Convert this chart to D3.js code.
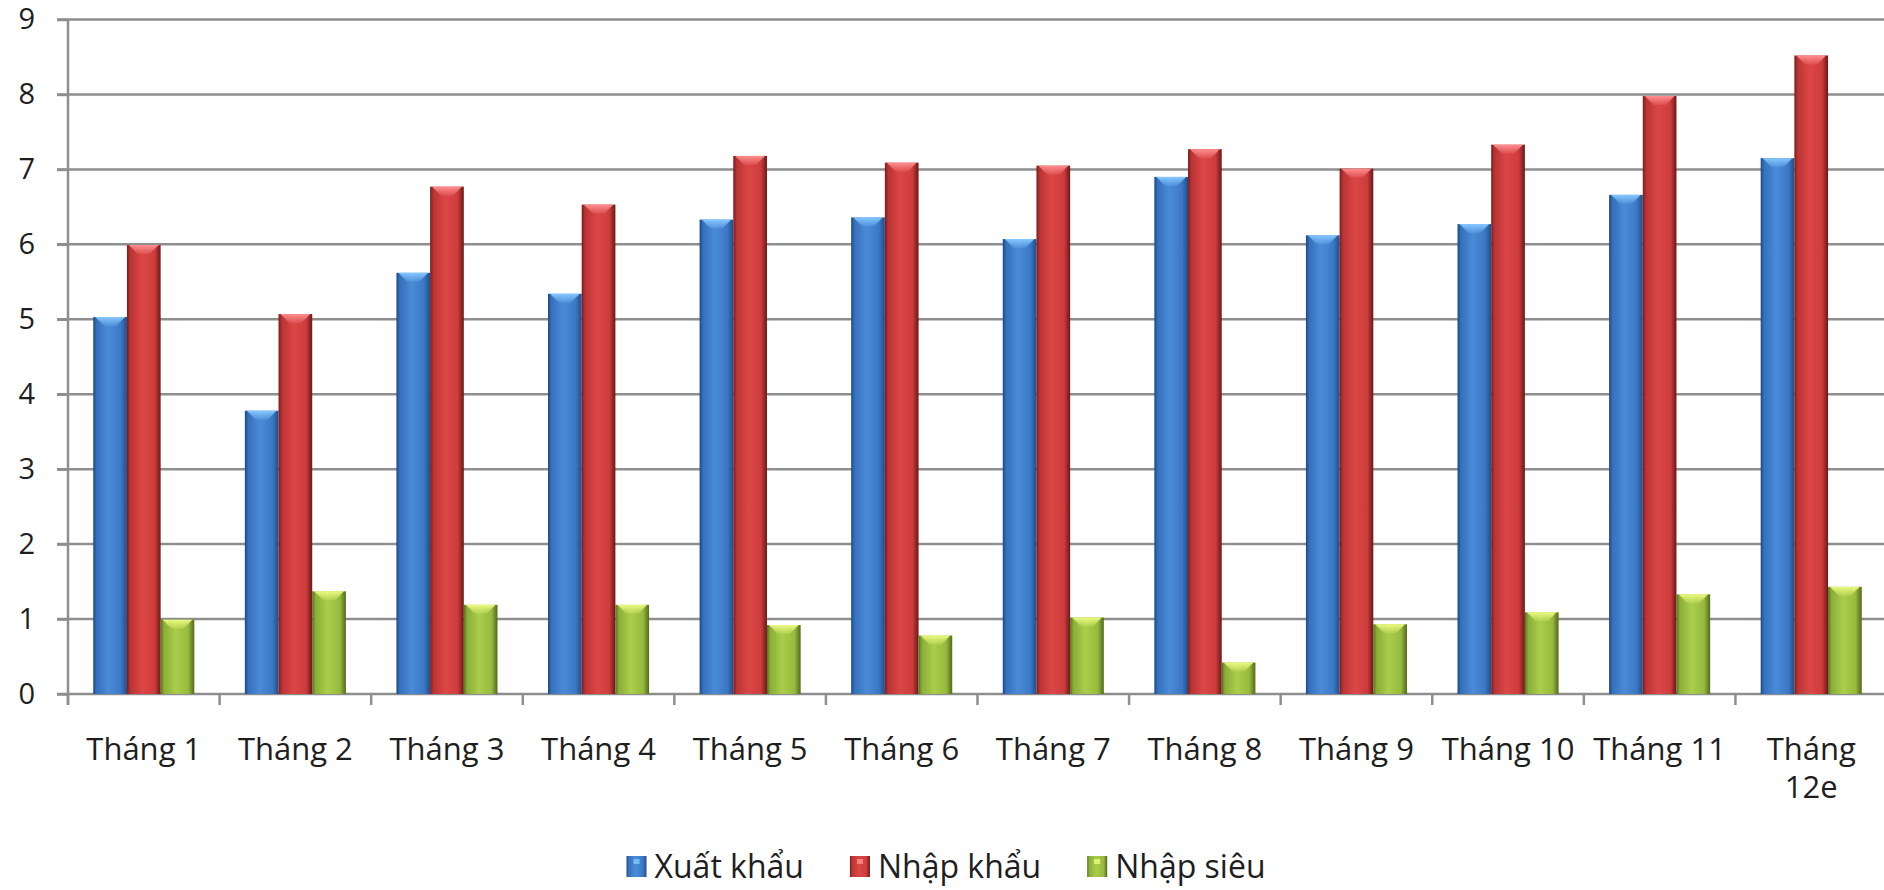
<!DOCTYPE html>
<html>
<head>
<meta charset="utf-8">
<script src="https://cdn.jsdelivr.net/npm/d3@7"></script>
<style>
  html, body { margin: 0; padding: 0; background: #ffffff; }
  svg { display: block; }
  text { font-family: "Open Sans", "Noto Sans", sans-serif; fill: #1e1e1e; }
</style>
</head>
<body>
<svg id="chart" width="1884" height="890"></svg>
<script>
// Monthly trade figures
const categories = ["Tháng 1", "Tháng 2", "Tháng 3", "Tháng 4", "Tháng 5", "Tháng 6",
                    "Tháng 7", "Tháng 8", "Tháng 9", "Tháng 10", "Tháng 11", "Tháng 12e"];
const xuatKhau = [5.03, 3.78, 5.62, 5.34, 6.33, 6.36, 6.07, 6.90, 6.12, 6.27, 6.66, 7.15];
const nhapKhau = [5.99, 5.07, 6.77, 6.53, 7.18, 7.09, 7.05, 7.27, 7.01, 7.33, 7.98, 8.52];
const nhapSieu = [0.99, 1.37, 1.19, 1.19, 0.92, 0.78, 1.02, 0.42, 0.93, 1.09, 1.33, 1.43];
const seriesNames = ["Xuất khẩu", "Nhập khẩu", "Nhập siêu"];
const yTicks = [0, 1, 2, 3, 4, 5, 6, 7, 8, 9];

const seriesValues = [xuatKhau, nhapKhau, nhapSieu];

// Cylinder-like shading per series: edge, body, highlight, cap
const palette = [
  { id: "blue",  stops: ["#1c4884", "#3570bb", "#4a8bd8", "#3a78c5", "#214d88"], cap: "#86c8ff" },
  { id: "red",   stops: ["#7a1b1b", "#b93434", "#dc4646", "#cd3c3c", "#6c1717"], cap: "#ff8f8f" },
  { id: "green", stops: ["#55701d", "#8aae38", "#aacd4b", "#97ba3e", "#526a1b"], cap: "#ecfa80" }
];

const svg = d3.select("#chart");
const W = 1884;

const plot = { left: 68, right: 1887, top: 19.5, bottom: 694 };

const x = d3.scaleBand().domain(categories).range([plot.left, plot.right]).padding(0);
const step = x.step();
// three bars plus a 150% gap per category
const barW = step / 4.5;
const groupOffset = barW * 0.75;
const sub = d3.scaleBand().domain(d3.range(3)).range([groupOffset, groupOffset + 3 * barW]).padding(0);

const y = d3.scaleLinear().domain([0, 9]).range([plot.bottom, plot.top]);

// gradients
const defs = svg.append("defs");
palette.forEach(p => {
  const g = defs.append("linearGradient").attr("id", "grad-" + p.id)
    .attr("x1", "0%").attr("x2", "100%").attr("y1", "0%").attr("y2", "0%");
  [0, 0.1, 0.45, 0.82, 1].forEach((o, i) => g.append("stop").attr("offset", o).attr("stop-color", p.stops[i]));
  const c = defs.append("linearGradient").attr("id", "cap-" + p.id)
    .attr("x1", "0%").attr("x2", "0%").attr("y1", "0%").attr("y2", "100%");
  c.append("stop").attr("offset", 0).attr("stop-color", p.cap).attr("stop-opacity", 1);
  c.append("stop").attr("offset", 1).attr("stop-color", p.cap).attr("stop-opacity", 0.15);
});

// gridlines
svg.append("g").selectAll("line").data(yTicks).join("line")
  .attr("x1", plot.left - 11).attr("x2", W)
  .attr("y1", d => y(d)).attr("y2", d => y(d))
  .attr("stroke", "#8e8e8e").attr("stroke-width", 2.5);

// y axis with labels
const yAxis = svg.append("g").attr("transform", `translate(${plot.left},0)`)
  .call(d3.axisLeft(y).tickValues(yTicks).tickSize(11).tickPadding(22).tickFormat(d3.format("d")));
yAxis.select(".domain").remove();
yAxis.selectAll(".tick line").attr("stroke", "#8e8e8e").attr("stroke-width", 2.5);
yAxis.selectAll(".tick text").style("font-size", "29px").attr("fill", "#1e1e1e")
  .style("font-family", "'Open Sans', sans-serif");
svg.append("line").attr("x1", plot.left).attr("x2", plot.left)
  .attr("y1", plot.top).attr("y2", plot.bottom + 11)
  .attr("stroke", "#8e8e8e").attr("stroke-width", 2.5);

// category boundary ticks
const bounds = categories.map(c => x(c)).concat([x(categories[categories.length - 1]) + step]);
svg.append("g").selectAll("line").data(bounds).join("line")
  .attr("x1", d => d).attr("x2", d => d)
  .attr("y1", plot.bottom).attr("y2", plot.bottom + 11)
  .attr("stroke", "#8e8e8e").attr("stroke-width", 2.5);

// bars
const groups = svg.append("g").selectAll("g").data(categories).join("g")
  .attr("transform", d => `translate(${x(d)},0)`);

groups.each(function(cat, ci) {
  const g = d3.select(this);
  seriesValues.forEach((vals, si) => {
    const v = vals[ci];
    const bx = sub(si);
    const bw = sub.bandwidth();
    const top = y(v);
    const p = palette[si];
    g.append("rect")
      .attr("x", bx).attr("y", top)
      .attr("width", bw).attr("height", y(0) - top)
      .attr("fill", `url(#grad-${p.id})`);
    // bevelled top cap
    const capH = 9;
    g.append("path")
      .attr("d", `M${bx + 2},${top} L${bx + bw - 2},${top} L${bx + bw * 0.68},${top + capH} L${bx + bw * 0.32},${top + capH} Z`)
      .attr("fill", `url(#cap-${p.id})`);
  });
});

// category labels, wrapped when too wide for the band
const labels = svg.append("g").selectAll("text").data(categories).join("text")
  .attr("x", d => x(d) + step / 2)
  .attr("y", 760)
  .attr("text-anchor", "middle")
  .style("font-size", "31px");
labels.each(function(d) {
  const t = d3.select(this);
  t.text(d);
  if (this.getComputedTextLength() > step * 0.92) {
    const words = d.split(" ");
    t.text(null);
    words.forEach((w, i) => {
      t.append("tspan").attr("x", x(d) + step / 2).attr("dy", i === 0 ? 0 : 38).text(w);
    });
  }
});

// legend
const legend = svg.append("g");
const items = legend.selectAll("g").data(seriesNames).join("g");
items.append("rect")
  .attr("width", 20).attr("height", 21).attr("y", -22)
  .attr("fill", (d, i) => `url(#grad-${palette[i].id})`);
items.append("rect")
  .attr("x", 7).attr("y", -19).attr("width", 6).attr("height", 5)
  .attr("fill", (d, i) => palette[i].cap).attr("opacity", 0.8);
items.append("text").attr("x", 28).attr("y", 0).style("font-size", "32px").text(d => d);
let cursor = 0;
items.each(function() {
  const w = this.getBBox().width;
  d3.select(this).attr("transform", `translate(${cursor},0)`);
  cursor += w + 46;
});
const totalW = cursor - 46;
legend.attr("transform", `translate(${946 - totalW / 2},878)`);
</script>
</body>
</html>
